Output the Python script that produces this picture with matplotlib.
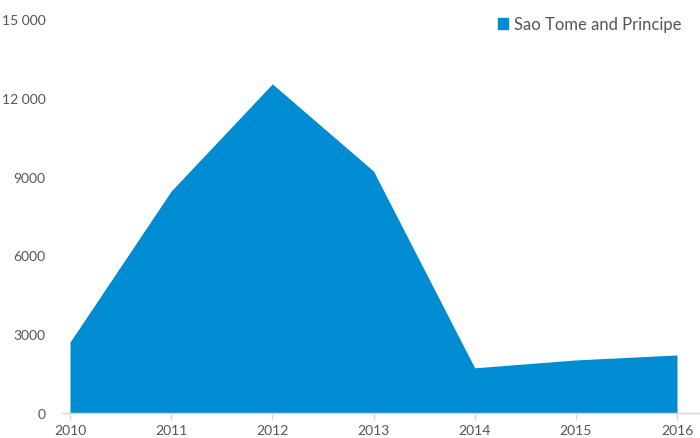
import matplotlib.pyplot as plt
from matplotlib.patches import Patch

years = [2010, 2011, 2012, 2013, 2014, 2015, 2016]
values = [2700, 8450, 12530, 9210, 1720, 2020, 2210]
yticks = [0, 3000, 6000, 9000, 12000, 15000]
ytick_labels = ['0', '3000', '6000', '9000', '12 000', '15 000']
series_name = 'Sao Tome and Principe'

color = '#008cd2'
text_color = '#555555'
plt.rcParams['font.family'] = ['Lato', 'DejaVu Sans']

fig = plt.figure(figsize=(7, 4.39), dpi=100)
ax = fig.add_axes([62 / 700, 1 - 414 / 439, 638 / 700, 394 / 439])

ax.fill_between(years, values, 0, color=color, linewidth=0)

ppy = 607 / 6
ax.set_xlim(2010 - 8 / ppy, 2010 + 630 / ppy)
ax.set_ylim(0, 15000)

for s in ['top', 'right', 'left']:
    ax.spines[s].set_visible(False)
ax.spines['bottom'].set_color('#d8d8d8')
ax.spines['bottom'].set_linewidth(1)

ax.set_xticks(years)
ax.set_xticklabels([str(y) for y in years])
ax.set_yticks(yticks)
ax.set_yticklabels(ytick_labels)
ax.tick_params(axis='x', colors='#d8d8d8', labelcolor=text_color, length=5, width=1, labelsize=10, pad=3)
ax.tick_params(axis='y', length=0, labelcolor=text_color, labelsize=10, pad=12)

ax.legend(handles=[Patch(color=color)], labels=[series_name], loc='upper right',
          bbox_to_anchor=(0.995, 1.045), frameon=False, fontsize=12, handlelength=0.65,
          handleheight=0.65, handletextpad=0.35, labelcolor=text_color)

fig.savefig('out.png', dpi=100)
